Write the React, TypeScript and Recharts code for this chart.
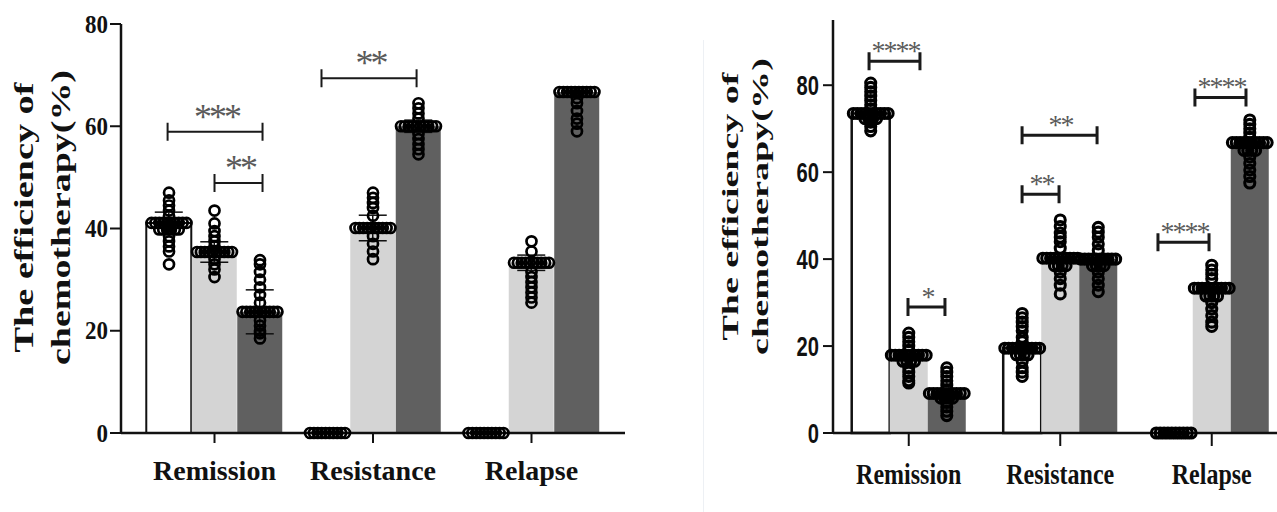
import React from "react";
import {
  ComposedChart,
  Bar,
  Cell,
  ErrorBar,
  Scatter,
  XAxis,
  YAxis,
  ReferenceLine,
} from "recharts";

const categories = ["Remission", "Resistance", "Relapse"];

// ---- left panel ----
const leftMeanWhite = [41.1, 0, 0];
const leftMeanLight = [35.4, 40.1, 33.3];
const leftMeanDark = [23.7, 60, 66.7];
const leftSdWhite = [2.1, 0, 0];
const leftSdLight = [2.0, 2.5, 1.5];
const leftSdDark = [4.3, 1.2, 1.0];

const leftPtsWhite = [
  [47, 45.5, 44.5, 43.5, 42.5, 41.1, 41.1, 41.1, 41.1, 41.1, 41.1, 41.1, 41.1, 41.1, 41.1, 39.8, 39.8, 39.8, 39.8, 39.8, 39.8, 38.5, 37.5, 36.5, 35.5, 33],
  [0, 0, 0, 0, 0, 0, 0, 0, 0, 0],
  [0, 0, 0, 0, 0, 0, 0, 0, 0, 0],
];
const leftPtsLight = [
  [43.5, 41, 39.5, 38.5, 37.5, 36.5, 35.4, 35.4, 35.4, 35.4, 35.4, 35.4, 35.4, 35.4, 35.4, 35.4, 34, 33, 32, 30.5],
  [47, 46, 45, 44, 42.5, 40.1, 40.1, 40.1, 40.1, 40.1, 40.1, 40.1, 40.1, 40.1, 40.1, 38.5, 37, 35.5, 34],
  [37.5, 35.5, 33.3, 33.3, 33.3, 33.3, 33.3, 33.3, 33.3, 33.3, 33.3, 33.3, 31.5, 30.5, 29.5, 28.5, 27.5, 26.5, 25.5],
];
const leftPtsDark = [
  [33.8, 33, 31.5, 30, 28.5, 27, 25.5, 23.7, 23.7, 23.7, 23.7, 23.7, 23.7, 23.7, 23.7, 23.7, 23.7, 22, 21, 20, 19.5, 18.5],
  [64.5, 63.5, 62.5, 61.5, 60, 60, 60, 60, 60, 60, 60, 60, 60, 60, 58.5, 57.5, 56.5, 55.5, 54.5],
  [66.7, 66.7, 66.7, 66.7, 66.7, 66.7, 66.7, 66.7, 66.7, 66.7, 65.5, 64.5, 63, 61.5, 60.5, 59],
];
const leftBrackets = [
  { x1: 0.204, x2: 0.803, y: 58.9, text: "***" },
  { x1: 0.5, x2: 0.803, y: 48.9, text: "**" },
  { x1: 1.175, x2: 1.775, y: 69.4, text: "**" },
];

// ---- right panel ----
const rightMeanWhite = [73.5, 19.5, 0];
const rightMeanLight = [17.9, 40.2, 33.3];
const rightMeanDark = [9.1, 40, 66.8];

const rightPtsWhite = [
  [80.5, 79.5, 78.5, 77.5, 76.5, 75.5, 74.5, 73.5, 73.5, 73.5, 73.5, 73.5, 73.5, 73.5, 73.5, 73.5, 73.5, 72.3, 72.3, 72.3, 72.3, 71.5, 70.5, 69.5],
  [27.5, 26.5, 25.5, 24.5, 23.5, 22, 21, 19.5, 19.5, 19.5, 19.5, 19.5, 19.5, 19.5, 19.5, 19.5, 19.5, 18, 18, 18, 18, 16.5, 15, 14, 13],
  [0, 0, 0, 0, 0, 0, 0, 0, 0, 0],
];
const rightPtsLight = [
  [23, 22, 21, 20, 19, 17.9, 17.9, 17.9, 17.9, 17.9, 17.9, 17.9, 17.9, 17.9, 17.9, 16.5, 16.5, 16.5, 16.5, 15, 14, 13, 12, 11.5],
  [49, 47.5, 46, 45, 44, 42.5, 40.2, 40.2, 40.2, 40.2, 40.2, 40.2, 40.2, 40.2, 40.2, 40.2, 38.5, 38.5, 38.5, 38.5, 37, 35.5, 34, 32],
  [38.6, 37.5, 36.5, 35.5, 33.3, 33.3, 33.3, 33.3, 33.3, 33.3, 33.3, 33.3, 33.3, 33.3, 31.5, 31.5, 31.5, 31.5, 30, 28.5, 27, 25.5, 24.5],
];
const rightPtsDark = [
  [15, 14, 13, 12, 11, 10, 9.1, 9.1, 9.1, 9.1, 9.1, 9.1, 9.1, 9.1, 9.1, 9.1, 8, 8, 8, 8, 7, 6, 5, 4],
  [47.3, 46.2, 45, 43.5, 42, 40, 40, 40, 40, 40, 40, 40, 40, 40, 40, 38.5, 38.5, 38.5, 38.5, 37, 35.5, 34, 32.5],
  [72, 71, 70, 69, 68, 66.8, 66.8, 66.8, 66.8, 66.8, 66.8, 66.8, 66.8, 66.8, 66.8, 65, 65, 65, 65, 63.5, 62, 60.5, 59, 57.5],
];
const rightBrackets = [
  { x1: 0.238, x2: 0.574, y: 85.5, text: "****" },
  { x1: 0.495, x2: 0.739, y: 29, text: "*" },
  { x1: 1.248, x2: 1.743, y: 68.5, text: "**" },
  { x1: 1.248, x2: 1.492, y: 54.9, text: "**" },
  { x1: 2.145, x2: 2.482, y: 43.9, text: "****" },
  { x1: 2.389, x2: 2.726, y: 77.2, text: "****" },
];

const yTicks = [0, 20, 40, 60, 80];
const barFills = ["#ffffff", "#d4d4d4", "#606060"];

type BarRow = { x: number; v: number; sd: number; g: number };

function buildBars(means: number[][], sds: number[][] | null, step: number) {
  const rows: BarRow[] = [];
  categories.forEach((_, c) => {
    means.forEach((m, g) => {
      rows.push({ x: c + 0.5 + (g - 1) * step, v: m[c], sd: sds ? sds[g][c] : 0, g });
    });
  });
  return rows;
}

// simple beeswarm: equal values are spread side by side around the bar centre
function buildPoints(pts: number[][][], step: number, spread: number) {
  const out: { x: number; y: number }[] = [];
  pts.forEach((byCat, g) =>
    byCat.forEach((vals, c) => {
      const center = c + 0.5 + (g - 1) * step;
      const counts = new Map<number, number>();
      vals.forEach((v) => counts.set(v, (counts.get(v) || 0) + 1));
      const seen = new Map<number, number>();
      vals.forEach((v) => {
        const n = counts.get(v) || 1;
        const k = seen.get(v) || 0;
        seen.set(v, k + 1);
        out.push({ x: center + (k - (n - 1) / 2) * spread, y: v });
      });
    })
  );
  return out;
}

const LEFT_STEP = 0.287;
const RIGHT_STEP = 0.251;

const leftBars = buildBars([leftMeanWhite, leftMeanLight, leftMeanDark], [leftSdWhite, leftSdLight, leftSdDark], LEFT_STEP);
const leftPoints = buildPoints([leftPtsWhite, leftPtsLight, leftPtsDark], LEFT_STEP, 0.0245);
const rightBars = buildBars([rightMeanWhite, rightMeanLight, rightMeanDark], null, RIGHT_STEP);
const rightPoints = buildPoints([rightPtsWhite, rightPtsLight, rightPtsDark], RIGHT_STEP, 0.0255);

const SERIF = "'Liberation Serif', 'Times New Roman', serif";
const SANS = "'Liberation Sans', Arial, sans-serif";

const dot = (r: number, sw: number) => (p: any) => (
  <circle cx={p.cx} cy={p.cy} r={r} fill="none" stroke="#000" strokeWidth={sw} />
);

const bracket =
  (text: string, o: { sw: number; h: number; fs: number; gap: number; ls: number }) => (p: any) => {
    const { x1, x2, y1 } = p;
    return (
      <g>
        <path
          d={`M${x1},${y1}H${x2}M${x1},${y1 - o.h}V${y1 + o.h}M${x2},${y1 - o.h}V${y1 + o.h}`}
          stroke="#1a1a1a"
          strokeWidth={o.sw}
          fill="none"
        />
        <text
          x={(x1 + x2) / 2 - o.ls / 2}
          y={y1 - o.gap}
          textAnchor="middle"
          fontFamily={SERIF}
          fontSize={o.fs}
          letterSpacing={o.ls}
          fill="#5a5a5a"
        >
          {text}
        </text>
      </g>
    );
  };

const catTick = (dy: number, fs: number, sx: number) => (p: any) => {
  const i = Math.round(p.payload.value - 0.5);
  return (
    <text
      transform={`translate(${p.x},${p.y + dy}) scale(${sx},1)`}
      textAnchor="middle"
      fontFamily={SERIF}
      fontWeight="bold"
      fontSize={fs}
      fill="#111"
    >
      {categories[i]}
    </text>
  );
};

const numTick = (family: string, fs: number, sx: number, dy: number) => (p: any) => (
  <text
    transform={`translate(${p.x},${p.y + dy}) scale(${sx},1)`}
    textAnchor="end"
    fontFamily={family}
    fontWeight="bold"
    fontSize={fs}
    fill="#111"
  >
    {p.payload.value}
  </text>
);

const yLabel = (o: { x1: number; x2: number; dy: number; fs: number; len1: number; len2: number }) => (p: any) => {
  const vb = p.viewBox;
  const cy = vb.y + vb.height / 2 + o.dy;
  const common = {
    textAnchor: "middle" as const,
    fontFamily: SERIF,
    fontWeight: "bold",
    fontSize: o.fs,
    fill: "#111",
    lengthAdjust: "spacingAndGlyphs",
  };
  return (
    <g>
      <text transform={`translate(${o.x1},${cy}) rotate(-90)`} textLength={o.len1} {...common}>
        The efficiency of
      </text>
      <text transform={`translate(${o.x2},${cy}) rotate(-90)`} textLength={o.len2} {...common}>
        chemotherapy(%)
      </text>
    </g>
  );
};

const axisLine = { stroke: "#111", strokeWidth: 2.5 };
const tickLine = { stroke: "#111", strokeWidth: 2 };

export default function App() {
  return (
    <div
      style={{
        position: "fixed",
        left: 0,
        top: 0,
        width: 1277,
        height: 512,
        overflow: "hidden",
        background: "#fff",
      }}
    >
      <div style={{ position: "absolute", left: 0, top: 0 }}>
        <ComposedChart
          width={640}
          height={512}
          data={leftBars}
          barCategoryGap={0}
          barGap={0}
          margin={{ top: 24, right: 15, bottom: 0, left: 0 }}
        >
          <XAxis
            type="number"
            dataKey="x"
            domain={[-0.09, 3.09]}
            ticks={[0.5, 1.5, 2.5]}
            height={79}
            tickSize={10}
            tickMargin={0}
            axisLine={axisLine}
            tickLine={tickLine}
            tick={catTick(37, 28, 1)}
          />
          <XAxis xAxisId="pts" type="number" dataKey="x" domain={[-0.09, 3.09]} hide />
          <YAxis
            type="number"
            domain={[0, 80]}
            ticks={yTicks}
            width={121}
            tickSize={11}
            tickMargin={2}
            axisLine={axisLine}
            tickLine={tickLine}
            tick={numTick(SERIF, 25, 0.92, 8.5)}
            label={{ content: yLabel({ x1: 33, x2: 70, dy: -11, fs: 27, len1: 270, len2: 295 }) }}
          />
          <Bar dataKey="v" isAnimationActive={false}>
            {leftBars.map((r, i) => (
              <Cell
                key={i}
                fill={barFills[r.g]}
                stroke={r.g === 0 ? "#111" : "none"}
                strokeWidth={r.g === 0 ? 2 : 0}
              />
            ))}
            <ErrorBar dataKey="sd" width={14} stroke="#111" strokeWidth={1.5} direction="y" />
          </Bar>
          <Scatter
            xAxisId="pts"
            data={leftPoints}
            dataKey="y"
            shape={dot(5, 2.7)}
            isAnimationActive={false}
          />
          {leftBrackets.map((b, i) => (
            <ReferenceLine
              key={i}
              xAxisId="pts"
              segment={[
                { x: b.x1, y: b.y },
                { x: b.x2, y: b.y },
              ]}
              shape={bracket(b.text, { sw: 2, h: 9, fs: 36, gap: 3, ls: -3 })}
            />
          ))}
        </ComposedChart>
      </div>

      <div
        style={{ position: "absolute", left: 703, top: 40, width: 1, height: 472, background: "#edf0f4" }}
      />

      <div style={{ position: "absolute", left: 660, top: 0 }}>
        <ComposedChart
          width={640}
          height={512}
          data={rightBars}
          barCategoryGap={0}
          barGap={0}
          margin={{ top: 20, right: 12.5, bottom: 0, left: 0 }}
        >
          <XAxis
            type="number"
            dataKey="x"
            domain={[0, 3]}
            ticks={[0.5, 1.5, 2.5]}
            height={79}
            tickSize={13}
            tickMargin={0}
            axisLine={axisLine}
            tickLine={tickLine}
            tick={catTick(38, 30, 0.8)}
          />
          <XAxis xAxisId="pts" type="number" dataKey="x" domain={[0, 3]} hide />
          <YAxis
            type="number"
            domain={[0, 95]}
            ticks={yTicks}
            width={173}
            tickSize={10}
            tickMargin={4}
            axisLine={axisLine}
            tickLine={tickLine}
            tick={numTick(SANS, 28, 0.72, 10)}
            label={{ content: yLabel({ x1: 78, x2: 108, dy: -20, fs: 24, len1: 268, len2: 297 }) }}
          />
          <Bar dataKey="v" isAnimationActive={false}>
            {rightBars.map((r, i) => (
              <Cell
                key={i}
                fill={barFills[r.g]}
                stroke={r.g === 0 ? "#111" : "none"}
                strokeWidth={r.g === 0 ? 2.5 : 0}
              />
            ))}
          </Bar>
          <Scatter
            xAxisId="pts"
            data={rightPoints}
            dataKey="y"
            shape={dot(5, 3.1)}
            isAnimationActive={false}
          />
          {rightBrackets.map((b, i) => (
            <ReferenceLine
              key={i}
              xAxisId="pts"
              segment={[
                { x: b.x1, y: b.y },
                { x: b.x2, y: b.y },
              ]}
              shape={bracket(b.text, { sw: 3, h: 9, fs: 28, gap: 1, ls: -2 })}
            />
          ))}
        </ComposedChart>
      </div>
    </div>
  );
}
